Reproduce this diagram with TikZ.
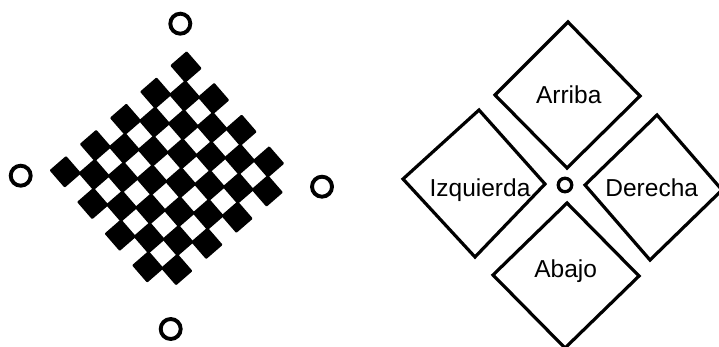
\documentclass[tikz,border=0pt]{standalone}
\usepackage{fontspec}
\setmainfont{Liberation Sans}
\begin{document}
\begin{tikzpicture}[x=1pt,y=-1pt,
  ring/.style={circle,draw=black,line width=3.9pt,minimum size=20pt,inner sep=0pt},
  smallring/.style={circle,draw=black,line width=3.3pt,minimum size=13.5pt,inner sep=0pt},
  dbox/.style={draw=black,line width=3.2pt,line join=miter},
  lbl/.style={anchor=base,inner sep=0pt,font=\fontsize{24.5}{29}\selectfont}]
\useasboundingbox (0,0) rectangle (719,347);
\fill[white] (0,0) rectangle (719,347);

% checkerboard
\begin{scope}[shift={(186pt,-67pt)},x={(13.75pt,-15.83pt)},y={(-15.08pt,-13.1pt)}]
\foreach \j in {0,...,8}{
  \foreach \m in {0,...,3}{
    \pgfmathtruncatemacro\ii{2*\m+mod(\j,2)}
    \fill[black,rounded corners=1pt] (\ii-0.55,\j-0.55) -- ++(1.1,0) -- ++(0,1.1) -- ++(-1.1,0) -- cycle;
  }
}
\end{scope}

% rings round the board
\node[ring] (rtop) at (180.3,23.7) {};
\node[ring] (rleft) at (20.7,175.7) {};
\node[ring] (rright) at (322,186.7) {};
\node[ring] (rbottom) at (170.7,329) {};

% right diagram
\draw[dbox] (568,22) -- (640,96) -- (567,168) -- (495,95) -- cycle;
\draw[dbox] (479,110) -- (545,184) -- (475,257) -- (403,179) -- cycle;
\draw[dbox] (657,115) -- (722,190) -- (650,260) -- (585,185) -- cycle;
\draw[dbox] (567,203) -- (639,276) -- (565,348) -- (493,275) -- cycle;

\node[smallring] (rcenter) at (565,185) {};

\node[lbl] (arriba) at (568.7,103.3) {Arriba};
\node[lbl] (izq) at (480,196.7) {Izquierda};
\node[lbl] (der) at (651.7,196.7) {Derecha};
\node[lbl] (abajo) at (565.7,277.3) {Abajo};
\end{tikzpicture}
\end{document}
